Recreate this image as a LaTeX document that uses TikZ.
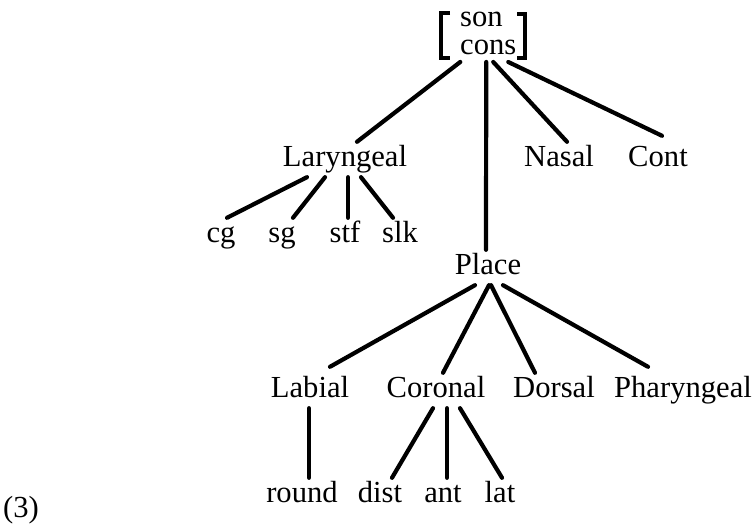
\documentclass[tikz,border=0pt]{standalone}
\usepackage{fontspec}
\setmainfont{Liberation Serif}

\begin{document}
\begin{tikzpicture}[x=1pt,y=1pt,
  every node/.style={font=\fontsize{30.6}{28}\selectfont},
  lbl/.style={anchor=base,inner xsep=0pt,inner ysep=3pt,text height=22pt,text depth=7pt},
  br/.style={line width=4.2pt,line cap=round},
  brk/.style={line width=4pt}]
\useasboundingbox (0,0) rectangle (756,526);
\node[inner xsep=0pt,inner ysep=7pt,align=left,anchor=south west] (R) at (460,464) {son\\cons};
\draw[brk] ([shift={(-10,-8)}]R.north west) -| ([shift={(-19,4)}]R.south west) -- ++(9,0);
\draw[brk] ([shift={(1,-9)}]R.north east) -| ([shift={(9,4)}]R.south east) -- ++(-8,0);
\node[lbl] (L) at (345,359) {Laryngeal};
\node[lbl] (N) at (559,359) {Nasal};
\node[lbl] (C) at (658,359) {Cont};
\node[lbl] (cg) at (221,283) {cg};
\node[lbl] (sg) at (282,283) {sg};
\node[lbl] (stf) at (345,283) {stf};
\node[lbl] (slk) at (400,283) {slk};
\node[lbl] (P) at (488,251) {Place};
\node[lbl] (lab) at (310,128) {Labial};
\node[lbl] (cor) at (436,128) {Coronal};
\node[lbl] (dor) at (554,128) {Dorsal};
\node[lbl] (phar) at (683,128) {Pharyngeal};
\node[lbl] (rnd) at (302,23) {round};
\node[lbl] (dist) at (380,23) {dist};
\node[lbl] (ant) at (443,23) {ant};
\node[lbl] (lat) at (500,23) {lat};
\node[lbl] (ex) at (21,8) {(3)};
\draw[br] ([xshift=-28]R.south) -- ([xshift=12]L.north);
\draw[br] ([xshift=-2]R.south) -- ([xshift=-2]P.north);
\draw[br] ([xshift=5]R.south) -- ([xshift=8]N.north);
\draw[br] ([xshift=20]R.south) -- ([shift={(4,6)}]C.north);
\draw[br] ([xshift=-38]L.south) -- ([xshift=6]cg.north);
\draw[br] ([xshift=-20]L.south) -- ([xshift=11]sg.north);
\draw[br] ([xshift=3]L.south) -- ([xshift=3]stf.north);
\draw[br] ([xshift=16]L.south) -- ([xshift=-7]slk.north);
\draw[br] ([xshift=-13]P.south) -- ([shift={(20,6)}]lab.north);
\draw[br] ([xshift=1]P.south) -- ([xshift=7]cor.north);
\draw[br] ([xshift=3]P.south) -- ([xshift=-19]dor.north);
\draw[br] ([xshift=15]P.south) -- ([shift={(-35,6)}]phar.north);
\draw[br] ([xshift=-1]lab.south) -- ([xshift=7]rnd.north);
\draw[br] ([xshift=-3]cor.south) -- ([xshift=12]dist.north);
\draw[br] ([xshift=11]cor.south) -- ([xshift=4]ant.north);
\draw[br] ([xshift=24]cor.south) -- ([xshift=2]lat.north);
\end{tikzpicture}
\end{document}
